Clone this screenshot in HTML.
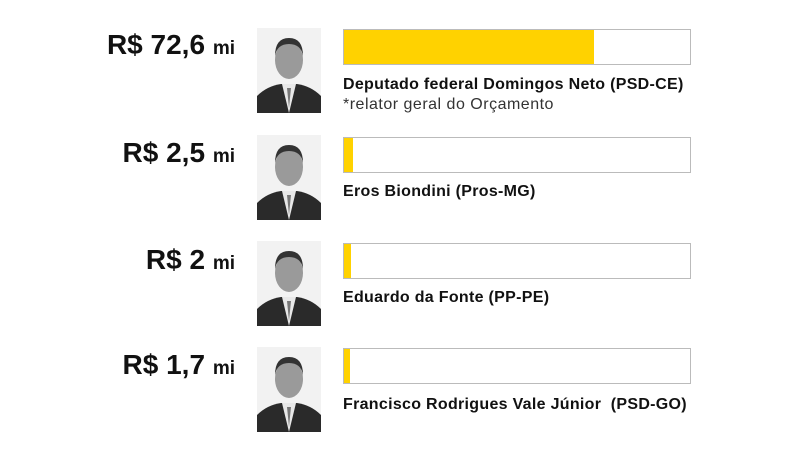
<!DOCTYPE html>
<html><head><meta charset="utf-8"><style>
body{margin:0;width:800px;height:450px;background:#fff;font-family:"Liberation Sans",sans-serif;position:relative;overflow:hidden;color:#111}
.v{position:absolute;right:565px;font-weight:bold;font-size:28px;white-space:nowrap}
.v small{font-size:19px}
.p{position:absolute;left:257px;width:64px;height:85px;background:#f4f4f4;overflow:hidden}
.b{position:absolute;left:343px;width:346px;height:34px;border:1px solid #bbb;background:#fff}
.b div{height:100%;background:#ffd200}
.n{position:absolute;left:343px;font-weight:bold;font-size:16px;letter-spacing:0.3px;white-space:nowrap}
.s{position:absolute;left:343px;font-size:16px;letter-spacing:0.5px;color:#333}
</style></head><body>
<svg width="0" height="0" style="position:absolute"><defs>
<g id="man"><rect width="64" height="85" fill="#f2f2f2"/><path d="M0 85 L0 68 Q10 58 24 56 L40 56 Q54 58 64 68 L64 85Z" fill="#2a2a2a"/><path d="M25 56 L32 85 L39 56Z" fill="#e8e8e8"/><path d="M30 60 L32 80 L34 60Z" fill="#777"/><ellipse cx="32" cy="32" rx="14" ry="19" fill="#9a9a9a"/><path d="M18 28 Q18 10 32 10 Q46 10 46 28 Q44 16 32 16 Q20 16 18 28Z" fill="#333"/></g>
</defs></svg>

<div class="v" style="top:29px">R$ 72,6 <small>mi</small></div>
<svg class="p" style="top:28px"><use href="#man"/></svg>
<div class="b" style="top:29px"><div style="width:250px"></div></div>
<div class="n" style="top:76px">Deputado federal Domingos Neto (PSD-CE)</div>
<div class="s" style="top:96px">*relator geral do Orçamento</div>

<div class="v" style="top:137px">R$ 2,5 <small>mi</small></div>
<svg class="p" style="top:135px"><use href="#man"/></svg>
<div class="b" style="top:137px"><div style="width:9px"></div></div>
<div class="n" style="top:183px">Eros Biondini (Pros-MG)</div>

<div class="v" style="top:244px">R$ 2 <small>mi</small></div>
<svg class="p" style="top:241px"><use href="#man"/></svg>
<div class="b" style="top:243px"><div style="width:7px"></div></div>
<div class="n" style="top:289px">Eduardo da Fonte (PP-PE)</div>

<div class="v" style="top:349px">R$ 1,7 <small>mi</small></div>
<svg class="p" style="top:347px"><use href="#man"/></svg>
<div class="b" style="top:348px"><div style="width:6px"></div></div>
<div class="n" style="top:396px">Francisco Rodrigues Vale Júnior&nbsp; (PSD-GO)</div>
</body></html>
